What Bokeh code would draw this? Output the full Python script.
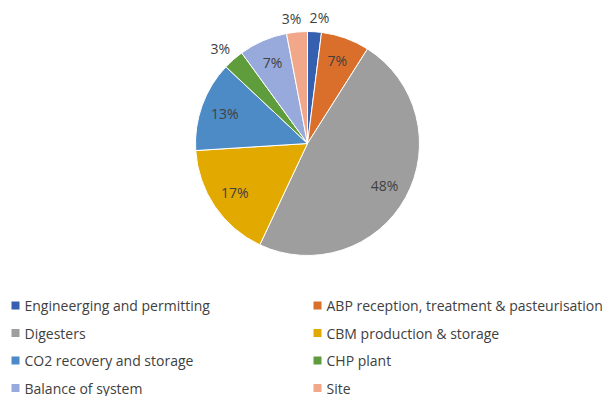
import math
from bokeh.plotting import figure
from bokeh.models import Range1d, ColumnDataSource
from bokeh.core.properties import value
from bokeh.embed import file_html
from bokeh.resources import INLINE

categories = ["Engineerging and permitting", "ABP reception, treatment & pasteurisation",
              "Digesters", "CBM production & storage", "CO2 recovery and storage",
              "CHP plant", "Balance of system", "Site"]
shares = [2, 7, 48, 17, 13, 3, 7, 3]
colors = ["#3560B0", "#DA6F2C", "#9E9E9E", "#E2AA00", "#4D8BC6", "#5E9C3C", "#98AADB", "#F1A789"]

W, H = 608, 396
cx, cy, R = 307, H - 143, 112
r_in, r_out = 88, 126

p = figure(width=W, height=H, output_backend="svg", toolbar_location=None,
           x_range=Range1d(0, W), y_range=Range1d(0, H), min_border=0,
           match_aspect=False)
p.axis.visible = False
p.grid.visible = False
p.outline_line_color = None
p.background_fill_color = "white"

total = sum(shares)
starts, ends, lx, ly, labels = [], [], [], [], []
cum = 0.0
for v in shares:
    a0 = cum / total
    cum += v
    a1 = cum / total
    starts.append(math.pi / 2 - 2 * math.pi * a1)
    ends.append(math.pi / 2 - 2 * math.pi * a0)
    mid = (a0 + a1) / 2 * 2 * math.pi
    s, c = math.sin(mid), math.cos(mid)
    if v <= 3:
        lx.append(cx + r_out * s + (4 if s > 0 else -4))
        ly.append(cy + r_out * c)
    else:
        lx.append(cx + r_in * s)
        ly.append(cy + r_in * c)
    labels.append(f"{v}%")

src = ColumnDataSource(dict(start=starts, end=ends, color=colors))
p.wedge(x=cx, y=cy, radius=R, start_angle="start", end_angle="end",
        fill_color="color", line_color="white", line_width=1, source=src)

p.text(x=lx, y=ly, text=labels, text_font=value("Open Sans"), text_font_size="14px",
       text_color="#404040", text_align="center", text_baseline="middle")

# legend (two columns)
col_x = [11, 313]
row_y0, row_dy = H - 305, 27.5
sq_x, sq_y, tx, ty, ttext = [], [], [], [], []
for i, name in enumerate(categories):
    c = i % 2
    r = i // 2
    y = row_y0 - r * row_dy
    sq_x.append(col_x[c] + 4)
    sq_y.append(y)
    tx.append(col_x[c] + 13)
    ty.append(y)
    ttext.append(name)
p.rect(x=sq_x, y=sq_y, width=8, height=8, fill_color=colors, line_color=None)
p.text(x=tx, y=ty, text=ttext, text_font=value("Open Sans"), text_font_size="14px",
       text_color="#404040", text_align="left", text_baseline="middle")

open("out.html", "w").write(file_html(p, INLINE))
